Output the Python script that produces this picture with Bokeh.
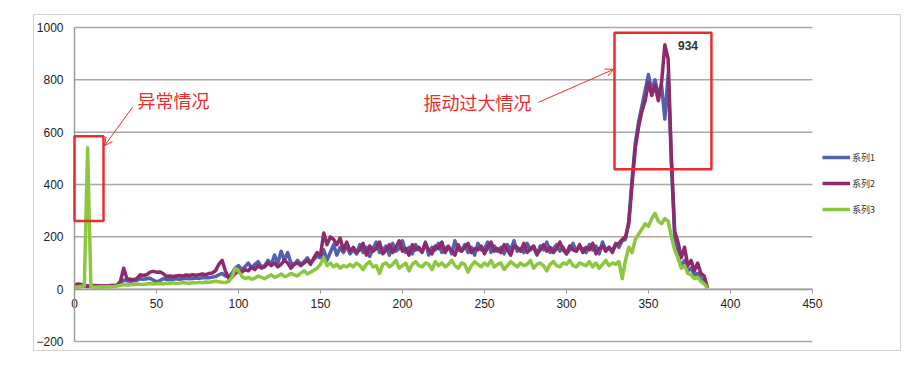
from bokeh.plotting import figure
from bokeh.models import (Range1d, FixedTicker, Legend, LegendItem, BoxAnnotation,
                          Arrow, OpenHead, ColumnDataSource)
from bokeh.core.properties import value
from bokeh.embed import file_html
from bokeh.resources import INLINE

# ---------------- data ----------------
x_vals = list(range(0, 388, 2))

s1_start = [12, 14, 13, 12, 10, 11, 12, 13, 12, 11, 12, 13, 14, 15]
s1_low = [20, 35, 32, 30, 32, 34, 40, 38, 40, 42, 35, 28, 32, 40, 38, 36, 38, 40, 38, 40,
          42, 40, 41, 43, 42, 44, 45, 44, 46, 48, 55, 60, 50, 48]
s1_rise = [60, 80, 90, 75, 85, 100, 80, 95, 105, 85, 90, 110, 95, 130, 100, 145, 110, 140,
           100, 95, 110, 95, 105, 120, 100, 115, 125]
s1_jump = [120, 150, 110, 140, 170, 130, 160, 140, 165, 135]
s1_mid = [150, 135, 170, 140, 160, 125, 155, 180, 140, 150,
          165, 130, 175, 145, 155, 185, 140, 160, 135, 170,
          150, 145, 180, 130, 160, 150, 175, 140, 155, 165,
          135, 185, 150, 145, 170, 140, 160, 130, 175, 150,
          155, 180, 140, 165, 145, 160, 135, 170, 150, 185,
          145, 155, 140, 175, 150, 160, 130, 165, 150, 180,
          140, 155, 170, 145, 160, 135, 150, 175, 145, 160,
          155, 140, 170, 150, 165, 135, 180, 150, 160, 145,
          175, 160, 185]
s1_peak = [190, 260, 420, 560, 640, 700, 760, 820, 760, 800, 740, 780, 650, 820, 480, 200,
           120, 90, 110, 70, 80, 55, 60, 40, 30, 5]

s2_start = [15, 20, 18, 15, 12, 12, 14, 13, 12, 12, 13, 14, 14, 15]
s2_low = [30, 80, 40, 38, 36, 40, 55, 52, 55, 65, 68, 65, 66, 60, 48, 50, 48, 50, 52, 50,
          54, 52, 55, 53, 55, 58, 55, 60, 62, 70, 95, 110, 70, 42]
s2_rise = [45, 60, 70, 65, 75, 70, 85, 75, 90, 80, 85, 100, 90, 100, 85, 95, 110, 100,
           80, 95, 100, 90, 100, 110, 95, 120, 140]
s2_jump = [130, 215, 170, 200, 190, 170, 195, 150, 180, 145]
s2_mid = [160, 140, 150, 175, 130, 165, 145, 155, 180, 135,
          150, 170, 140, 160, 185, 145, 155, 130, 170, 150,
          160, 140, 175, 150, 135, 165, 155, 180, 140, 160,
          150, 130, 170, 145, 160, 175, 140, 155, 150, 165,
          135, 160, 180, 145, 155, 140, 170, 150, 130, 165,
          160, 145, 175, 140, 155, 165, 135, 150, 170, 145,
          160, 140, 155, 180, 150, 135, 165, 150, 145, 170,
          140, 160, 150, 175, 135, 155, 165, 145, 160, 140,
          170, 175, 190]
s2_peak = [200, 250, 400, 540, 620, 680, 720, 790, 740, 780, 720, 790, 934, 880, 500, 220,
           180, 120, 160, 90, 110, 70, 100, 60, 50, 5]

s3_start = [8, 8, 10, 12, 540, 10, 8, 8, 9, 8, 10, 9, 10, 12]
s3_low = [15, 18, 16, 17, 18, 20, 19, 18, 20, 22, 20, 21, 22, 20, 23, 22, 24, 22, 23, 25,
          24, 22, 25, 24, 26, 25, 27, 26, 28, 30, 28, 26, 25, 30]
s3_rise = [45, 80, 70, 50, 40, 45, 38, 42, 50, 45, 40, 48, 55, 45, 50, 58, 48, 52, 60, 55,
           50, 62, 70, 58, 65, 72, 80]
s3_jump = [95, 120, 90, 100, 85, 95, 80, 90, 85, 95]
s3_mid = [85, 100, 90, 75, 95, 105, 85, 90, 60, 95,
          100, 85, 95, 110, 80, 90, 100, 70, 95, 105,
          90, 85, 100, 95, 75, 105, 90, 100, 85, 95,
          110, 90, 80, 100, 95, 65, 90, 105, 95, 85,
          100, 90, 110, 85, 95, 100, 75, 90, 105, 95,
          85, 100, 90, 95, 110, 80, 95, 100, 90, 70,
          95, 105, 90, 85, 100, 95, 110, 90, 85, 100,
          95, 90, 105, 85, 100, 80, 95, 110, 90, 100,
          95, 105, 40]
s3_peak = [110, 160, 140, 190, 210, 230, 250, 240, 270, 290, 260, 250, 270, 260, 200, 150,
           120, 80, 90, 60, 55, 40, 45, 30, 20, 5]

series1 = s1_start + s1_low + s1_rise + s1_jump + s1_mid + s1_peak
series2 = s2_start + s2_low + s2_rise + s2_jump + s2_mid + s2_peak
series3 = s3_start + s3_low + s3_rise + s3_jump + s3_mid + s3_peak

series_names = ["系列1", "系列2", "系列3"]
series_colors = ["#5361AD", "#8C2A6B", "#8DC63F"]

x_ticks = [0, 50, 100, 150, 200, 250, 300, 350, 400, 450]
y_ticks = [-200, 0, 200, 400, 600, 800, 1000]

# annotations (data coordinates)
box1 = dict(left=0, right=17.7, bottom=260, top=584)
box2 = dict(left=329.3, right=388.4, bottom=458, top=980)
note_texts = ["异常情况", "振动过大情况"]
note_x = [38.4, 212.8]
note_y = [721, 717]
arrow1 = dict(x_start=35.4, y_start=695, x_end=18.3, y_end=548)
arrow2 = dict(x_start=283, y_start=714, x_end=328.7, y_end=840)
peak_label = "934"
peak_label_x = [368]
peak_label_y = [932]

RED = "#EE2B2B"
FONT = "Liberation Sans"
CJK = "Noto Sans CJK SC"
GRID = "#A8A8A8"

# ---------------- figure ----------------
# the frame is the chart's outer border box; axes sit at x=0 / y=0 inside it
p = figure(width=918, height=376, output_backend="svg", toolbar_location=None,
           x_range=Range1d(-25.0, 503.7), y_range=Range1d(-234.4, 1049.6),
           min_border_left=33, min_border_right=18, min_border_top=14, min_border_bottom=26)
p.outline_line_color = "#D0D0D0"
p.outline_line_width = 1
p.background_fill_color = "white"
p.border_fill_color = "white"

p.xgrid.visible = False
p.ygrid.visible = False

# horizontal gridlines spanning the x-axis extent
p.segment(x0=[x_ticks[0]] * len(y_ticks), x1=[x_ticks[-1]] * len(y_ticks),
          y0=y_ticks, y1=y_ticks, line_color=GRID, line_width=1.5)

p.xaxis.ticker = FixedTicker(ticks=x_ticks)
p.xaxis.fixed_location = 0
p.xaxis.bounds = (x_ticks[0], x_ticks[-1])
p.xaxis.axis_line_color = "#9A9A9A"
p.xaxis.axis_line_width = 1.5
p.xaxis.major_tick_line_color = "#9A9A9A"
p.xaxis.major_tick_out = 4
p.xaxis.major_tick_in = 0
p.xaxis.minor_tick_line_color = None
p.xaxis.major_label_standoff = 6
p.xaxis.major_label_text_font = FONT
p.xaxis.major_label_text_font_size = "12px"
p.xaxis.major_label_text_color = "#222222"

p.yaxis.ticker = FixedTicker(ticks=y_ticks)
p.yaxis.fixed_location = 0
p.yaxis.bounds = (y_ticks[0], y_ticks[-1])
p.yaxis.axis_line_color = "#9A9A9A"
p.yaxis.axis_line_width = 1.5
p.yaxis.major_tick_out = 0
p.yaxis.major_tick_in = 0
p.yaxis.minor_tick_line_color = None
p.yaxis.major_label_standoff = 11
p.yaxis.major_label_text_font = FONT
p.yaxis.major_label_text_font_size = "12px"
p.yaxis.major_label_text_color = "#222222"

renderers = []
for ys, c in zip([series1, series2, series3], series_colors):
    src = ColumnDataSource(dict(x=x_vals, y=ys))
    r = p.line("x", "y", source=src, line_color=c, line_width=3.5, line_join="round")
    renderers.append(r)

# red boxes
for b in (box1, box2):
    p.add_layout(BoxAnnotation(**b, fill_alpha=0, line_color=RED, line_alpha=1, line_width=2.5))

# arrows
for a in (arrow1, arrow2):
    p.add_layout(Arrow(end=OpenHead(size=8, line_color=RED, line_width=1),
                       line_color=RED, line_width=1, **a))

p.text(x=note_x, y=note_y, text=note_texts, text_font=value(CJK), text_font_size="18px",
       text_color=RED, text_baseline="middle", text_align="left")
p.text(x=peak_label_x, y=peak_label_y, text=[peak_label], text_font=value(FONT),
       text_font_size="12px", text_font_style="bold", text_color="#333333",
       text_baseline="middle", text_align="left")

legend = Legend(items=[LegendItem(label=n, renderers=[r]) for n, r in zip(series_names, renderers)],
                location=(789, 134), orientation="vertical",
                label_text_font=CJK, label_text_font_size="9px", label_text_color="#333333",
                glyph_width=28, glyph_height=12, label_height=14, spacing=12,
                padding=4, margin=0, border_line_color=None, background_fill_alpha=0,
                label_standoff=2)
p.add_layout(legend)

open("out.html", "w").write(file_html(p, INLINE))
